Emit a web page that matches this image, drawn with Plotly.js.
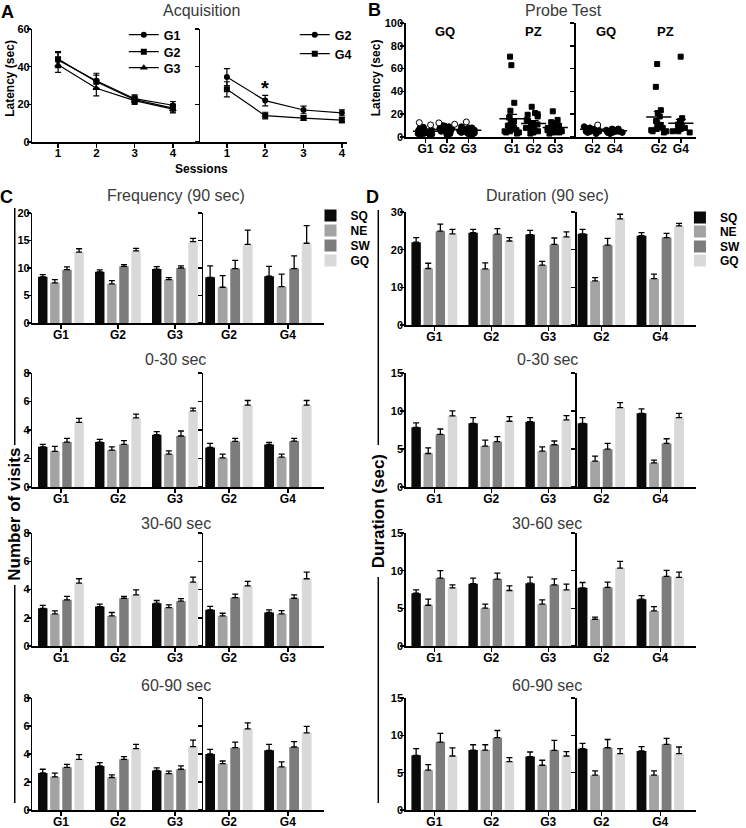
<!DOCTYPE html>
<html><head><meta charset="utf-8">
<script src="https://cdn.plot.ly/plotly-3.0.1.min.js"></script>
<style>html,body{margin:0;padding:0;background:#fff}#chart{width:746px;height:828px}</style>
</head><body><div id="chart"></div>
<script>
// ================= DATA =================
// Panel A – Acquisition latency (sec), mean and SEM per session
const sessions = [1, 2, 3, 4];
const acqLeftGroups = ['G1', 'G2', 'G3'];
const acqLeftMean = [[43.5, 32.5, 23, 19.5], [44, 32, 22.5, 18], [41, 28.5, 22, 17.5]];
const acqLeftSem  = [[4, 4, 2, 2], [4, 3.5, 2, 2], [4, 4, 2, 2]];
const acqRightGroups = ['G2', 'G4'];
const acqRightMean = [[34.5, 22, 17, 15.5], [28, 14, 12.7, 11.6]];
const acqRightSem  = [[4.5, 2.8, 2, 1.6], [4, 1.8, 1.2, 1.3]];

// Panel B – Probe test latency (sec), individual animals
const probeLeftGroups = ['G1', 'G2', 'G3'];
const probeRightGroups = ['G2', 'G4'];
const probeGQLeft = [
  [1.5, 2, 2.5, 3, 3, 3.5, 4, 4, 4.5, 5, 5, 5.5, 6, 6, 7, 8, 8.5, 3, 4],
  [2, 3, 4, 5, 5, 6, 6, 7, 7, 7.5, 8, 8, 9, 9.5, 10, 5, 6],
  [2, 3, 3.5, 4, 4.5, 5, 5, 6, 6, 6.5, 7, 7, 8, 8, 9, 4, 5]];
const probeGQLeftOpen = [[12.6, 10.6], [12.4, 11.2], [13.2]];
const probePZLeft = [
  [70.5, 63, 30, 23, 17, 14, 13, 11, 10, 9, 8, 7, 6, 5, 5, 4, 3, 4],
  [26.5, 21, 20, 19.5, 18, 15, 14, 12, 11, 10, 9, 8, 7, 6, 5, 4, 3],
  [22.5, 15, 13, 12, 10, 9, 8, 8, 7, 6, 6, 5, 4, 3, 4]];
const probeGQRight = [
  [3, 4, 5, 5, 6, 6, 7, 7, 8, 8, 9, 6, 5, 7],
  [3, 4, 4, 5, 5, 5, 6, 6, 6, 7, 7, 4, 5]];
const probeGQRightOpen = [[10.5], []];
const probePZRight = [
  [64, 44, 23.5, 21, 18, 14, 12, 10, 9, 8, 7, 6, 5, 5, 4],
  [70.5, 16.5, 14, 12, 11, 10, 9, 8, 7, 6, 5, 5, 4]];
const probeGQLeftMean = [5.0, 6.5, 6.0],  probeGQLeftSem = [0.6, 0.6, 0.6];
const probePZLeftMean = [16, 11.8, 8.3],  probePZLeftSem = [3.8, 2.5, 1.5];
const probeGQRightMean = [6.8, 5.5],      probeGQRightSem = [0.5, 0.3];
const probePZRightMean = [17.5, 12],      probePZRightSem = [5, 3.5];

// Panels C & D – zones and groups
const zones = ['SQ', 'NE', 'SW', 'GQ'];
const groupsLeft = ['G1', 'G2', 'G3'];
const groupsRight = ['G2', 'G4'];
const groupsRight3060 = ['G2', 'G3'];
// each: [SQ, NE, SW, GQ] x [G1, G2, G3 | G2, G4]
const freq90     = [[8.4, 9.3, 9.8, 8.3, 8.5], [7.3, 7.1, 7.9, 6.5, 6.6], [9.7, 10.3, 10.0, 9.9, 9.9], [12.9, 13.1, 14.8, 14.3, 14.5]];
const freq90Sem  = [[0.4, 0.35, 0.45, 2.1, 1.8], [0.6, 0.6, 0.35, 2.1, 2.3], [0.5, 0.3, 0.4, 1.5, 2.3], [0.6, 0.45, 0.6, 2.6, 3.2]];
const freq0030    = [[2.82, 3.15, 3.67, 2.78, 2.99], [2.5, 2.59, 2.3, 2.05, 2.09], [3.15, 2.99, 3.58, 3.2, 3.22], [4.54, 4.85, 5.34, 5.74, 5.74]];
const freq0030Sem = [[0.17, 0.19, 0.21, 0.28, 0.14], [0.35, 0.23, 0.24, 0.26, 0.21], [0.26, 0.26, 0.35, 0.21, 0.19], [0.28, 0.26, 0.19, 0.33, 0.33]];
const freq3060    = [[2.67, 2.79, 3.03, 2.56, 2.37], [2.27, 2.13, 2.72, 2.13, 2.27], [3.27, 3.38, 3.17, 3.43, 3.38], [4.45, 3.62, 4.52, 4.26, 4.76]];
const freq3060Sem = [[0.21, 0.17, 0.19, 0.24, 0.19], [0.21, 0.24, 0.19, 0.19, 0.24], [0.24, 0.14, 0.19, 0.24, 0.24], [0.31, 0.36, 0.36, 0.31, 0.47]];
const freq6090    = [[2.65, 3.15, 2.82, 4.0, 4.26], [2.37, 2.32, 2.6, 3.31, 3.08], [3.05, 3.62, 2.91, 4.45, 4.5], [3.62, 4.38, 4.52, 5.8, 5.51]];
const freq6090Sem = [[0.26, 0.24, 0.19, 0.33, 0.43], [0.26, 0.19, 0.17, 0.19, 0.36], [0.21, 0.19, 0.24, 0.4, 0.38], [0.33, 0.31, 0.47, 0.43, 0.47]];
const dur90     = [[22.0, 24.5, 24.0, 24.2, 23.7], [15.0, 14.9, 15.9, 11.7, 12.3], [24.9, 24.1, 21.4, 21.2, 23.2], [24.2, 22.3, 23.4, 28.2, 26.3]];
const dur90Sem  = [[1.2, 0.9, 1.1, 1.2, 0.8], [1.4, 1.6, 1.0, 0.9, 1.2], [1.9, 1.5, 1.7, 1.8, 1.1], [1.2, 0.9, 1.3, 1.2, 0.7]];
const dur0030    = [[7.85, 8.38, 8.6, 8.38, 9.7], [4.41, 5.38, 4.72, 3.4, 3.18], [6.93, 5.96, 5.56, 4.98, 5.73], [9.35, 8.65, 8.82, 10.45, 9.13]];
const dur0030Sem = [[0.6, 0.75, 0.53, 0.75, 0.57], [0.75, 0.8, 0.57, 0.66, 0.35], [0.7, 0.66, 0.49, 0.75, 0.62], [0.66, 0.62, 0.57, 0.66, 0.57]];
const dur3060    = [[7.0, 8.26, 8.34, 7.72, 6.21], [5.41, 5.02, 5.55, 3.55, 4.66], [9.0, 8.88, 8.12, 7.77, 9.23], [7.72, 7.37, 7.46, 10.34, 9.1]];
const dur3060Sem = [[0.45, 0.75, 0.8, 0.71, 0.49], [0.8, 0.53, 0.57, 0.27, 0.58], [1.0, 0.8, 0.8, 0.71, 0.8], [0.4, 0.62, 0.75, 0.89, 0.71]];
const dur6090    = [[7.32, 8.03, 7.15, 8.21, 7.9], [5.33, 8.03, 5.99, 4.66, 4.66], [9.1, 9.68, 7.99, 8.34, 8.79], [7.23, 6.48, 7.23, 7.55, 7.55]];
const dur6090Sem = [[0.89, 0.71, 0.62, 0.71, 0.58], [0.75, 0.71, 0.67, 0.58, 0.58], [1.15, 0.97, 1.33, 1.1, 0.8], [1.1, 0.53, 0.58, 0.66, 0.89]];

// ================= DRAWING =================
const W = 746, H = 828;
const FONT = '"Liberation Sans", Arial, Helvetica, sans-serif';
const tf = (s) => ({family: FONT, size: s, color: '#000', weight: 'bold'});
const traces = [];
const layout = {
  width: W, height: H, margin: {l: 0, r: 0, t: 0, b: 0, pad: 0},
  paper_bgcolor: '#fff', plot_bgcolor: 'rgba(0,0,0,0)',
  showlegend: true, hovermode: false, barmode: 'group', bargap: 0.15, bargroupgap: 0.22, boxmode: 'overlay',
  font: {family: FONT, color: '#000'}, annotations: [], shapes: []
};
let nAx = 0;
function sub(x0, x1, yTop, yBot, xo, yo) {
  nAx++;
  const k = nAx === 1 ? '' : String(nAx);
  const base = {showline: true, linecolor: '#000', linewidth: 1.5, ticks: 'outside', ticklen: 4, tickwidth: 1.5,
    tickcolor: '#000', showgrid: false, zeroline: false, fixedrange: true, tickfont: tf(11)};
  layout['xaxis' + k] = Object.assign({}, base, {domain: [x0 / W, x1 / W], anchor: 'y' + k, ticklabelstandoff: -4}, xo);
  layout['yaxis' + k] = Object.assign({}, base, {domain: [1 - yBot / H, 1 - yTop / H], anchor: 'x' + k, ticklabelstandoff: -5}, yo);
  return {x: 'x' + k, y: 'y' + k};
}
function ann(text, x, y, size, weight, color, extra) {
  layout.annotations.push(Object.assign({text: text, x: x / W, y: 1 - y / H, xref: 'paper', yref: 'paper',
    xanchor: 'center', yanchor: 'middle', showarrow: false,
    font: {family: FONT, size: size, weight: weight, color: color}}, extra || {}));
}
function vline(x, y0, y1) {
  layout.shapes.push({type: 'line', xref: 'paper', yref: 'paper', x0: x / W, x1: x / W, y0: 1 - y0 / H, y1: 1 - y1 / H,
    line: {color: '#000', width: 1.5}});
}
let nLeg = 0;
function newLegend(x, y, size) {
  nLeg++;
  const id = nLeg === 1 ? 'legend' : 'legend' + nLeg;
  layout[id] = {x: x / W, y: 1 - y / H, xanchor: 'left', yanchor: 'top', bgcolor: 'rgba(0,0,0,0)', borderwidth: 0,
    font: tf(size), itemwidth: 30, tracegroupgap: 0, traceorder: 'normal'};
  return id;
}

// ---- Panel A ----
const aL = sub(33, 204, 29, 142, {range: [0.33, 4.72], tickvals: sessions, tickfont: tf(11.5)}, {range: [0, 60], tickvals: [0, 20, 40, 60]});
const aR = sub(204, 353, 29, 142, {range: [0.31, 4.13], tickvals: sessions, tickfont: tf(11.5)}, {range: [0, 60], tickvals: [0, 20, 40, 60], showticklabels: false});
const acqSymbols = ['circle', 'square', 'triangle-up'];
function acqTrace(name, y, e, sym, ax, leg) {
  return {type: 'scatter', mode: 'lines+markers', name: name, x: sessions, y: y,
    error_y: {type: 'data', array: e, color: '#000', thickness: 1.2, width: 3},
    line: {color: '#000', width: 1.2}, marker: {symbol: sym, size: sym === 'triangle-up' ? 7 : 6, color: '#000'},
    xaxis: ax.x, yaxis: ax.y, legend: leg};
}
const aLeftLegTops = [20, 37, 53];
const aRightLegTops = [20, 39];
acqLeftGroups.forEach((g, i) => traces.push(acqTrace(g, acqLeftMean[i], acqLeftSem[i], acqSymbols[i], aL, newLegend(126, aLeftLegTops[i], 12.5))));
acqRightGroups.forEach((g, i) => traces.push(acqTrace(g, acqRightMean[i], acqRightSem[i], acqSymbols[i], aR, newLegend(300, aRightLegTops[i], 12.5))));

// ---- Panel B ----
const posLeftGQ = probeLeftGroups.map((g, i) => i);
const posLeftPZ = probeLeftGroups.map((g, i) => i + probeLeftGroups.length + 1);
const posRightGQ = probeRightGroups.map((g, i) => i);
const posRightPZ = probeRightGroups.map((g, i) => i + probeRightGroups.length + 1);
const bL = sub(413, 586, 23, 137, {range: [-0.91, 6.95], tickvals: posLeftGQ.concat(posLeftPZ), ticktext: probeLeftGroups.concat(probeLeftGroups), tickfont: tf(12)},
  {range: [0, 100], tickvals: [0, 20, 40, 60, 80, 100]});
const bR = sub(586, 708, 23, 137, {range: [-0.76, 4.67], tickvals: posRightGQ.concat(posRightPZ), ticktext: probeRightGroups.concat(probeRightGroups), tickfont: tf(12)},
  {range: [0, 100], tickvals: [0, 20, 40, 60, 80, 100], showticklabels: false});
function swarm(ax, groups, pos, symbol, fill, size) {
  const xs = [], ys = [];
  groups.forEach((vals, i) => vals.forEach(v => { xs.push(pos[i]); ys.push(v); }));
  if (!xs.length) return;
  traces.push({type: 'box', x: xs, y: ys, boxpoints: 'all', jitter: 1, pointpos: 0, width: 0.9,
    fillcolor: 'rgba(0,0,0,0)', line: {color: 'rgba(0,0,0,0)', width: 0}, whiskerwidth: 0,
    marker: {symbol: symbol, color: fill, size: size, line: {color: '#000', width: 1}},
    xaxis: ax.x, yaxis: ax.y, showlegend: false, hoverinfo: 'skip'});
}
function meanBars(ax, pos, m, s) {
  traces.push({type: 'scatter', mode: 'markers', x: pos, y: m,
    marker: {symbol: 'line-ew', size: 18, color: '#000', line: {color: '#000', width: 1.5}},
    error_y: {type: 'data', array: s, color: '#000', thickness: 1.3, width: 5},
    xaxis: ax.x, yaxis: ax.y, showlegend: false});
}
swarm(bL, probeGQLeft, posLeftGQ, 'circle', '#000', 6);
swarm(bL, probeGQLeftOpen, posLeftGQ, 'circle', '#fff', 6);
swarm(bL, probePZLeft, posLeftPZ, 'square', '#000', 5);
meanBars(bL, posLeftGQ, probeGQLeftMean, probeGQLeftSem);
meanBars(bL, posLeftPZ, probePZLeftMean, probePZLeftSem);
swarm(bR, probeGQRight, posRightGQ, 'circle', '#000', 6);
swarm(bR, probeGQRightOpen, posRightGQ, 'circle', '#fff', 6);
swarm(bR, probePZRight, posRightPZ, 'square', '#000', 5);
meanBars(bR, posRightGQ, probeGQRightMean, probeGQRightSem);
meanBars(bR, posRightPZ, probePZRightMean, probePZRightSem);

// ---- Panels C & D ----
const zoneColors = ['#0a0a0a', '#a3a3a3', '#7c7c7c', '#d9d9d9'];
function barTrace(name, s, xs, ys, es, ax, showLeg, leg) {
  return {type: 'bar', name: name, x: xs, y: ys, xaxis: ax.x, yaxis: ax.y,
    marker: {color: zoneColors[s], line: {width: 0}},
    error_y: {type: 'data', array: es, arrayminus: es.map(() => 0), symmetric: false, color: '#000', thickness: 1.3, width: 3},
    showlegend: showLeg, legend: leg};
}
function barPanel(rows, xL0, xMid, xR1, rRange, legs, titleX) {
  rows.forEach((r, ri) => {
    const L = sub(xL0, xMid, r.top, r.bot, {type: 'category', range: [-0.5, 2.5], tickfont: tf(12)},
      {range: [0, r.ymax], dtick: r.dtick, tick0: 0});
    const R = sub(xMid, xR1, r.top, r.bot, {type: 'category', range: rRange, tickfont: tf(12)},
      {range: [0, r.ymax], dtick: r.dtick, tick0: 0, showticklabels: false});
    zones.forEach((z, s) => {
      traces.push(barTrace(z, s, groupsLeft, r.mean[s].slice(0, 3), r.sem[s].slice(0, 3), L, ri === 0, legs[s]));
      traces.push(barTrace(z, s, r.rG, r.mean[s].slice(3), r.sem[s].slice(3), R, false, legs[s]));
    });
    ann(r.title, titleX, r.tY, 16, 'normal', '#3a3a3a');
  });
}
const cLegTops = [201, 216, 231, 246];
const dLegTops = [203, 217, 232, 246];
const cLegs = zones.map((z, s) => newLegend(316, cLegTops[s], 12));
const dLegs = zones.map((z, s) => newLegend(692, dLegTops[s], 12));
barPanel([
  {title: 'Frequency (90 sec)', mean: freq90, sem: freq90Sem, ymax: 20, dtick: 5, top: 213, bot: 323, tY: 196, rG: groupsRight},
  {title: '0-30 sec', mean: freq0030, sem: freq0030Sem, ymax: 8, dtick: 2, top: 373, bot: 487, tY: 360, rG: groupsRight},
  {title: '30-60 sec', mean: freq3060, sem: freq3060Sem, ymax: 8, dtick: 2, top: 533, bot: 646, tY: 523, rG: groupsRight3060},
  {title: '60-90 sec', mean: freq6090, sem: freq6090Sem, ymax: 8, dtick: 2, top: 698, bot: 810, tY: 685, rG: groupsRight}
], 33, 207, 330, [-0.433, 1.617], cLegs, 179);
barPanel([
  {title: 'Duration (90 sec)', mean: dur90, sem: dur90Sem, ymax: 30, dtick: 10, top: 212, bot: 325, tY: 196, rG: groupsRight},
  {title: '0-30 sec', mean: dur0030, sem: dur0030Sem, ymax: 15, dtick: 5, top: 373, bot: 487, tY: 360, rG: groupsRight},
  {title: '30-60 sec', mean: dur3060, sem: dur3060Sem, ymax: 15, dtick: 5, top: 533, bot: 646, tY: 523, rG: groupsRight},
  {title: '60-90 sec', mean: dur6090, sem: dur6090Sem, ymax: 15, dtick: 5, top: 698, bot: 810, tY: 685, rG: groupsRight}
], 413, 587, 708, [-0.417, 1.6], dLegs, 557);

// ---- Text ----
ann('A', 8, 12, 18, 'bold', '#000');
ann('B', 381, 10, 18, 'bold', '#000');
ann('C', 7, 197, 18, 'bold', '#000');
ann('D', 379, 197, 18, 'bold', '#000');
ann('Acquisition', 205, 11, 16, 'normal', '#3a3a3a');
ann('Probe Test', 573, 11, 16, 'normal', '#3a3a3a');
ann('Latency (sec)', 10, 78, 12, 'bold', '#000', {textangle: -90});
ann('Latency (sec)', 383, 78, 12, 'bold', '#000', {textangle: -90});
ann('Sessions', 205, 169, 12, 'bold', '#000');
ann('*', 270, 88, 20, 'bold', '#000');
ann('GQ', 453, 32, 13, 'bold', '#000');
ann('PZ', 543, 32, 13, 'bold', '#000');
ann('GQ', 617, 32, 13, 'bold', '#000');
ann('PZ', 677, 32, 13, 'bold', '#000');
ann('Number of visits', 14, 514, 17, 'bold', '#000', {textangle: -90});
ann('Duration (sec)', 386, 511, 17, 'bold', '#000', {textangle: -90});
vline(15, 208, 445);
vline(15, 585, 803);
vline(385, 210, 445);
vline(385, 577, 803);

Plotly.newPlot('chart', traces, layout, {displayModeBar: false, staticPlot: true});
</script>
</body></html>
